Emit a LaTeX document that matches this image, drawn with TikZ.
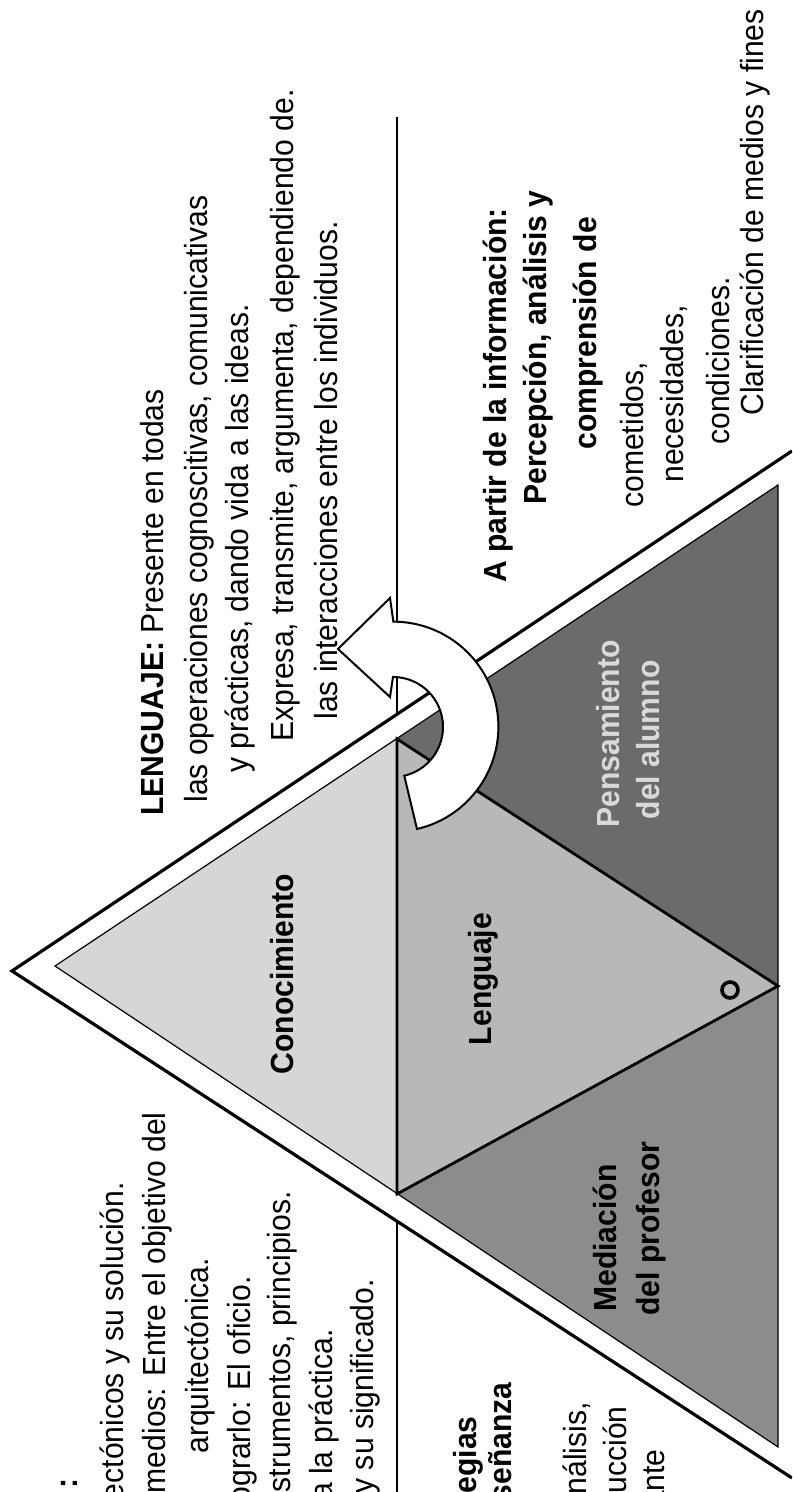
\documentclass[tikz,border=0pt]{standalone}
\usepackage{fontspec}
\setmainfont{Liberation Sans}[FakeStretch=0.94]
\definecolor{conoc}{gray}{0.84}
\definecolor{lengu}{gray}{0.72}
\definecolor{media}{gray}{0.55}
\definecolor{pensa}{gray}{0.42}
\begin{document}
\begin{tikzpicture}[x=0.5pt,y=-0.5pt,rotate=90,transform shape,
  txt/.style={anchor=base west,inner sep=0pt,font=\fontsize{16}{21}\selectfont},
  txr/.style={anchor=base east,inner sep=0pt,font=\fontsize{16}{21}\selectfont},
  lbl/.style={anchor=base,inner sep=0pt,font=\fontsize{16}{21}\selectfont\bfseries}]
\useasboundingbox (0,0) rectangle (1492,792);
\clip (0,0) rectangle (1492,792);
% corners
\coordinate (oa) at (521,12);
\coordinate (ol) at (14,792);
\coordinate (or) at (1041,792);
\coordinate (ia) at (526,55);
\coordinate (il) at (45,778);
\coordinate (ir) at (1007,778);
\coordinate (ml) at (298,397);
\coordinate (mr) at (753,397);
\coordinate (mb) at (506,778);
\coordinate (ll0) at (0,397);
\coordinate (ll1) at (1375,397);
% dividing line
\draw [line width=1pt] (ll0) -- (ll1);
% frame
\fill [white] (oa) -- (ol) -- (or) -- cycle;
\draw [line width=1.6pt] (ol) -- (oa) -- (or);
% four triangles
\fill [conoc] (ia) -- (ml) -- (mr) -- cycle;
\fill [media] (ml) -- (il) -- (mb) -- cycle;
\fill [lengu] (ml) -- (mr) -- (mb) -- cycle;
\fill [pensa] (mr) -- (mb) -- (ir) -- cycle;
\draw [line width=0.6pt] (ia) -- (il) -- (ir) -- cycle;
\draw [line width=1.4pt] (ml) -- (mr) -- (mb) -- cycle;
\node [draw,circle,line width=1.8pt,minimum size=8pt,inner sep=0pt] (ring) at (502,730) {};
\node [lbl] (cono) at (518,293) {Conocimiento};
\node [lbl] (leng) at (513,491) {Lenguaje};
\node [lbl,anchor=base west] (med1) at (180,616) {Mediación};
\node [lbl,anchor=base west] (med2) at (176,659) {del profesor};
\node [lbl,text=black!15] (pen1) at (758,619) {Pensamiento};
\node [lbl,text=black!15] (pen2) at (752,659) {del alumno};
% curved arrow
\coordinate (ac) at (765,393);
\draw [fill=white,line width=1pt] (663,417) arc[start angle=167,end angle=0,radius=105]
  -- (894,390) -- (843,338) -- (795,390) -- (815,393)
  arc[start angle=0,end angle=167,radius=50] -- cycle;
% text top right
\node [txt] (lg1) at (676,163) {\textbf{LENGUAJE:} Presente en todas};
\node [txt] (lg2) at (689,207) {las operaciones cognoscitivas, comunicativas};
\node [txt] (lg3) at (719,248) {y prácticas, dando vida a las ideas.};
\node [txt] (lg4) at (750,293) {Expresa, transmite, argumenta, dependiendo de.};
\node [txt] (lg5) at (772,337) {las interacciones entre los individuos.};
% text top left
\node [txr] (ar0) at (14,77) {\textbf{:}};
\node [txr] (ar1) at (310,123) {ectónicos y su solución.};
\node [txr] (ar2) at (380,165) {medios: Entre el objetivo del};
\node [txt] (ar3) at (38,208) {arquitectónica.};
\node [txr] (ar4) at (216,250) {ograrlo: El oficio.};
\node [txr] (ar5) at (301,290) {strumentos, principios.};
\node [txr] (ar6) at (163,332) {a la práctica.};
\node [txr] (ar7) at (213,373) {y su significado.};
% text bottom left
\node [txr] (es1) at (76,476) {\textbf{egias}};
\node [txr] (es2) at (110,511) {\textbf{señanza}};
\node [txr] (es3) at (90,586) {análisis,};
\node [txr] (es4) at (86,626) {rucción};
\node [txr] (es5) at (43,664) {ante};
% text bottom right
\node [txt] (in1) at (909,506) {\textbf{A partir de la información:}};
\node [txt] (in2) at (987,546) {\textbf{Percepción, análisis y}};
\node [txt] (in3) at (1042,596) {\textbf{comprensión de}};
\node [txt] (in4) at (984,643) {cometidos,};
\node [txt] (in5) at (1009,683) {necesidades,};
\node [txt] (in6) at (1047,729) {condiciones.};
\node [txt] (in7) at (1076,763) {Clarificación de medios y fines};
\end{tikzpicture}
\end{document}
